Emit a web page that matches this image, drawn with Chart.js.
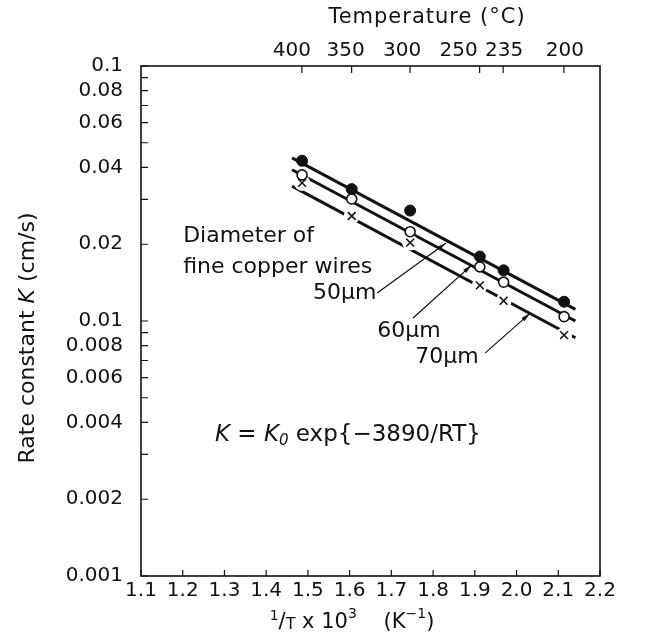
<!DOCTYPE html>
<html>
<head>
<meta charset="utf-8">
<script src="https://cdn.jsdelivr.net/npm/chart.js@4.4.0/dist/chart.umd.min.js"></script>
<style>
html, body { margin: 0; padding: 0; background: #fff; }
#wrap { width: 646px; height: 635px; }
</style>
</head>
<body>
<div id="wrap"><canvas id="chart" width="646" height="635"></canvas></div>
<script>
// measured points, x = 1/T x 10^3
const invT = [1.486, 1.605, 1.745, 1.912, 1.969, 2.114];
const k50 = [0.0425, 0.0329, 0.0271, 0.0179, 0.0158, 0.0119];
const k60 = [0.0374, 0.0301, 0.0224, 0.0163, 0.0142, 0.0104];
const k70 = [0.0348, 0.0258, 0.0203, 0.0138, 0.0120, 0.0088];

// fitted straight lines (end points)
const fitX = [1.462, 2.141];
const fit50 = [0.0436, 0.0111];
const fit60 = [0.0392, 0.0100];
const fit70 = [0.0338, 0.0086];

// axes
const xTicks = [1.1, 1.2, 1.3, 1.4, 1.5, 1.6, 1.7, 1.8, 1.9, 2.0, 2.1, 2.2];
const xTickLabels = ['1.1', '1.2', '1.3', '1.4', '1.5', '1.6', '1.7', '1.8', '1.9', '2.0', '2.1', '2.2'];
const tempTicks = [400, 350, 300, 250, 235, 200];
const yTicks = [0.001, 0.002, 0.003, 0.004, 0.005, 0.006, 0.007, 0.008, 0.009,
    0.01, 0.02, 0.03, 0.04, 0.05, 0.06, 0.07, 0.08, 0.09, 0.1];
const yTickLabels = ['0.001', '0.002', '', '0.004', '', '0.006', '', '0.008', '',
    '0.01', '0.02', '', '0.04', '', '0.06', '', '0.08', '', '0.1'];

// annotations, in data units
const notes = [
    { text: 'Diameter of', x: 1.201, y: 0.0214, align: 'left' },
    { text: 'fine copper wires', x: 1.201, y: 0.0163, align: 'left' },
    { text: '50\u00b5m', x: 1.664, y: 0.0129, align: 'right' },
    { text: '60\u00b5m', x: 1.666, y: 0.0091, align: 'left' },
    { text: '70\u00b5m', x: 1.757, y: 0.0072, align: 'left' }
];
const arrows = [
    { from: [1.666, 0.01288], to: [1.831, 0.02022] },
    { from: [1.752, 0.01028], to: [1.893, 0.01660] },
    { from: [1.925, 0.00750], to: [2.033, 0.01074] }
];
const eqPos = { x: 1.596, y: 0.00357 };

const FONT = 'DejaVu Sans';
const ink = '#111';
const tickFont = { family: FONT, size: 20 };
// the hand-lettered temperature labels sit a little off their ticks
const tempShift = [-10, -6, -8, -21, 1, 1];

function toXY(xs, ys) {
    return xs.map((x, i) => ({ x: x, y: ys[i] }));
}

// draws a list of [text, font, dy] runs from x,y
function runs(ctx, parts, x, y, align) {
    let w = 0;
    for (const p of parts) { ctx.font = p[1]; w += ctx.measureText(p[0]).width; }
    let cx = align === 'center' ? x - w / 2 : (align === 'right' ? x - w : x);
    ctx.textAlign = 'left';
    ctx.textBaseline = 'middle';
    for (const p of parts) {
        ctx.font = p[1];
        ctx.fillText(p[0], cx, y + (p[2] || 0));
        cx += ctx.measureText(p[0]).width;
    }
}

function arrow(ctx, x0, y0, x1, y1) {
    ctx.beginPath();
    ctx.moveTo(x0, y0);
    ctx.lineTo(x1, y1);
    ctx.stroke();
    const a = Math.atan2(y1 - y0, x1 - x0);
    const len = 10, spread = 0.22;
    ctx.beginPath();
    ctx.moveTo(x1, y1);
    ctx.lineTo(x1 - len * Math.cos(a - spread), y1 - len * Math.sin(a - spread));
    ctx.lineTo(x1 - len * Math.cos(a + spread), y1 - len * Math.sin(a + spread));
    ctx.closePath();
    ctx.fill();
}

const decor = {
    id: 'decor',
    afterDraw(chart) {
        const { ctx, chartArea: a, scales } = chart;
        const xs = scales.x, ys = scales.y, xt = scales.x2;
        ctx.save();
        ctx.strokeStyle = ink;
        ctx.fillStyle = ink;

        // frame
        ctx.lineWidth = 1.6;
        ctx.strokeRect(a.left, a.top, a.right - a.left, a.bottom - a.top);

        // inward ticks
        ctx.lineWidth = 1.2;
        ctx.beginPath();
        for (const t of ys.ticks) {
            const py = ys.getPixelForValue(t.value);
            ctx.moveTo(a.left, py); ctx.lineTo(a.left + 7, py);
        }
        for (const t of xs.ticks) {
            const px = xs.getPixelForValue(t.value);
            ctx.moveTo(px, a.bottom); ctx.lineTo(px, a.bottom - 6);
        }
        for (const t of xt.ticks) {
            const px = xt.getPixelForValue(t.value);
            ctx.moveTo(px, a.top); ctx.lineTo(px, a.top + 7);
        }
        ctx.stroke();

        // temperature labels on the top axis
        ctx.font = '20px ' + FONT;
        ctx.textAlign = 'center';
        ctx.textBaseline = 'middle';
        xt.ticks.forEach((t, i) => {
            ctx.fillText(String(tempTicks[i]), xt.getPixelForValue(t.value) + tempShift[i], a.top - 15);
        });

        // arrows
        ctx.lineWidth = 1.2;
        for (const ar of arrows) {
            arrow(ctx, xs.getPixelForValue(ar.from[0]), ys.getPixelForValue(ar.from[1]),
                xs.getPixelForValue(ar.to[0]), ys.getPixelForValue(ar.to[1]));
        }

        // annotation text
        ctx.font = '22px ' + FONT;
        ctx.textBaseline = 'middle';
        for (const n of notes) {
            ctx.textAlign = n.align;
            ctx.fillText(n.text, xs.getPixelForValue(n.x), ys.getPixelForValue(n.y));
        }

        const norm = '22px ' + FONT;
        const ital = 'italic 22px ' + FONT;
        const sup = '14px ' + FONT;

        // equation
        runs(ctx, [
            ['K', 'italic 23px ' + FONT], [' = ', '23px ' + FONT], ['K', 'italic 23px ' + FONT],
            ['0', 'italic 15px ' + FONT, 6],
            [' exp', '23px ' + FONT], ['{\u22123890/RT}', '23px ' + FONT]
        ], xs.getPixelForValue(eqPos.x), ys.getPixelForValue(eqPos.y), 'center');

        // axis titles
        ctx.save();
        ctx.letterSpacing = '1px';
        runs(ctx, [['Temperature (\u00b0C)', '21px ' + FONT]], 427, 18, 'center');
        ctx.restore();
        runs(ctx, [
            ['1', sup, -7], ['/', '21px ' + FONT], ['T', '16px ' + FONT, 2], [' x 10', '21px ' + FONT],
            ['3', sup, -9], ['    (K', '21px ' + FONT], ['\u22121', sup, -9], [')', '21px ' + FONT]
        ], 352, 623, 'center');

        ctx.translate(28, 338);
        ctx.rotate(-Math.PI / 2);
        runs(ctx, [['Rate constant ', norm], ['K', ital], [' (cm/s)', norm]], 0, 0, 'center');
        ctx.restore();
    }
};

const lineStyle = { showLine: true, pointRadius: 0, borderColor: ink, borderWidth: 3, fill: false, order: 3 };

new Chart(document.getElementById('chart'), {
    type: 'scatter',
    data: {
        datasets: [
            { label: '50 um', data: toXY(invT, k50), pointStyle: 'circle', pointRadius: 5.5,
              backgroundColor: ink, borderColor: ink, borderWidth: 1, order: 1 },
            { label: '60 um', data: toXY(invT, k60), pointStyle: 'circle', pointRadius: 5,
              backgroundColor: '#fff', borderColor: ink, borderWidth: 1.6, order: 1 },
            { label: '70 um', data: toXY(invT, k70), pointStyle: 'crossRot', pointRadius: 5.5,
              backgroundColor: ink, borderColor: ink, borderWidth: 1.6, order: 1 },
            // white patch behind the crosses so the line breaks there
            { label: 'gap', data: toXY(invT, k70), pointStyle: 'circle', pointRadius: 8,
              backgroundColor: '#fff', borderColor: '#fff', borderWidth: 0, order: 2 },
            Object.assign({ label: 'fit 50', data: toXY(fitX, fit50) }, lineStyle),
            Object.assign({ label: 'fit 60', data: toXY(fitX, fit60) }, lineStyle),
            Object.assign({ label: 'fit 70', data: toXY(fitX, fit70) }, lineStyle)
        ]
    },
    options: {
        responsive: false,
        animation: false,
        events: [],
        layout: { padding: { right: 46, left: 0, top: 0, bottom: 0 } },
        plugins: { legend: { display: false }, tooltip: { enabled: false } },
        scales: {
            x: {
                type: 'linear', position: 'bottom', min: 1.1, max: 2.2,
                afterBuildTicks: s => { s.ticks = xTicks.map(v => ({ value: v })); },
                afterFit: s => { s.height = 59; },
                grid: { display: false }, border: { display: false },
                ticks: { autoSkip: false, maxRotation: 0, padding: -5, color: ink, font: tickFont,
                    callback: (v, i) => xTickLabels[i] }
            },
            x2: {
                type: 'linear', position: 'top', min: 1.1, max: 2.2,
                afterBuildTicks: s => { s.ticks = tempTicks.map(t => ({ value: 1000 / (t + 273.15) })); },
                afterFit: s => { s.height = 66; },
                grid: { display: false }, border: { display: false },
                ticks: { display: false }
            },
            y: {
                type: 'logarithmic', position: 'left', min: 0.001, max: 0.1,
                afterBuildTicks: s => { s.ticks = yTicks.map(v => ({ value: v })); },
                afterFit: s => { s.width = 141; },
                grid: { display: false }, border: { display: false },
                ticks: { autoSkip: false, padding: 10, color: ink, font: tickFont,
                    callback: (v, i) => yTickLabels[i] }
            }
        }
    },
    plugins: [decor]
});
</script>
</body>
</html>
